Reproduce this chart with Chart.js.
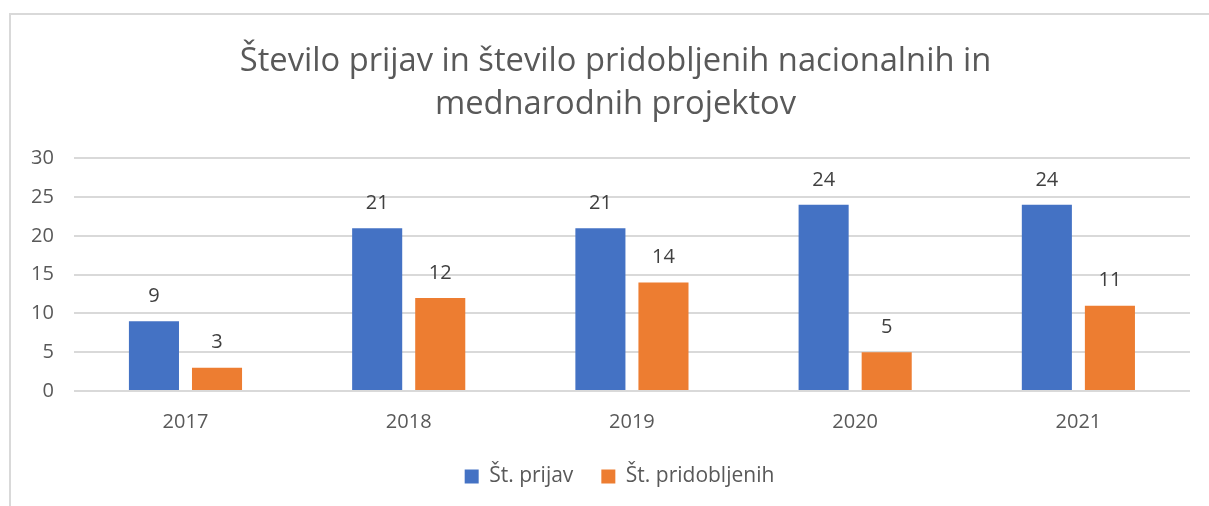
<!DOCTYPE html>
<html>
<head>
<meta charset="utf-8">
<script src="https://cdn.jsdelivr.net/npm/chart.js@4"></script>
<style>
  html, body { margin: 0; padding: 0; background: #fff; }
  #wrap { position: relative; width: 1209px; height: 506px; overflow: hidden; }
  #frame { position: absolute; left: 9px; top: 13px; width: 1220px; height: 520px; border: 2px solid #d9d9d9; box-sizing: border-box; }
  #box { position: absolute; left: 0; top: 0; width: 1209px; height: 506px; }
</style>
</head>
<body>
<div id="wrap">
  <div id="frame"></div>
  <div id="box"><canvas id="projChart"></canvas></div>
</div>
<script>
const years = ['2017', '2018', '2019', '2020', '2021'];
const prijave = [9, 21, 21, 24, 24];
const pridobljeni = [3, 12, 14, 5, 11];
const yTicks = [0, 5, 10, 15, 20, 25, 30];

// vrednosti nad stolpci
const barLabels = {
  id: 'barLabels',
  afterDatasetsDraw(chart) {
    const c = chart.ctx;
    c.save();
    c.font = '20px "Open Sans"';
    c.fillStyle = '#404040';
    c.textAlign = 'center';
    c.textBaseline = 'middle';
    chart.data.datasets.forEach((ds, i) => {
      chart.getDatasetMeta(i).data.forEach((bar, j) => {
        c.fillText(ds.data[j], bar.x, bar.y - 25);
      });
    });
    c.restore();
  }
};

// naslov in legenda sta v originalu malo desno od sredine
const shiftBoxes = {
  id: 'shiftBoxes',
  afterLayout(chart) {
    chart.titleBlock.left += 15;
    chart.titleBlock.right += 15;
    chart.legend.left += 19;
    chart.legend.right += 19;
  }
};

const ctx = document.getElementById('projChart').getContext('2d');
new Chart(ctx, {
  type: 'bar',
  data: {
    labels: years,
    datasets: [
      {
        label: 'Št. prijav',
        data: prijave,
        backgroundColor: '#4472c4',
        categoryPercentage: 0.565,
        barPercentage: 0.794,
      },
      {
        label: 'Št. pridobljenih',
        data: pridobljeni,
        backgroundColor: '#ed7d31',
        categoryPercentage: 0.565,
        barPercentage: 0.794,
      },
    ],
  },
  options: {
    responsive: true,
    maintainAspectRatio: false,
    animation: false,
    layout: { padding: { left: 11, right: 19, top: 40, bottom: 9 } },
    plugins: {
      title: {
        display: true,
        text: ['Število prijav in število pridobljenih nacionalnih in', 'mednarodnih projektov'],
        color: '#595959',
        font: { family: 'Open Sans', size: 32.7, weight: 'normal', lineHeight: 1.32 },
        padding: { top: 0, bottom: 32 },
      },
      legend: {
        position: 'bottom',
        labels: {
          color: '#595959',
          font: { family: 'Open Sans', size: 21 },
          boxWidth: 14,
          boxHeight: 14,
          padding: 28,
        },
      },
      tooltip: { enabled: false },
    },
    scales: {
      x: {
        grid: { display: false },
        border: { display: false },
        ticks: { color: '#595959', font: { family: 'Open Sans', size: 20 }, padding: 11 },
        afterFit: axis => { axis.height -= 7; },
      },
      y: {
        min: 0,
        max: 30,
        afterBuildTicks: axis => { axis.ticks = yTicks.map(v => ({ value: v })); },
        grid: { color: '#d9d9d9', lineWidth: 2, drawTicks: false },
        border: { display: false },
        ticks: { color: '#595959', font: { family: 'Open Sans', size: 20 }, padding: 20 },
      },
    },
  },
  plugins: [barLabels, shiftBoxes],
});
</script>
</body>
</html>
